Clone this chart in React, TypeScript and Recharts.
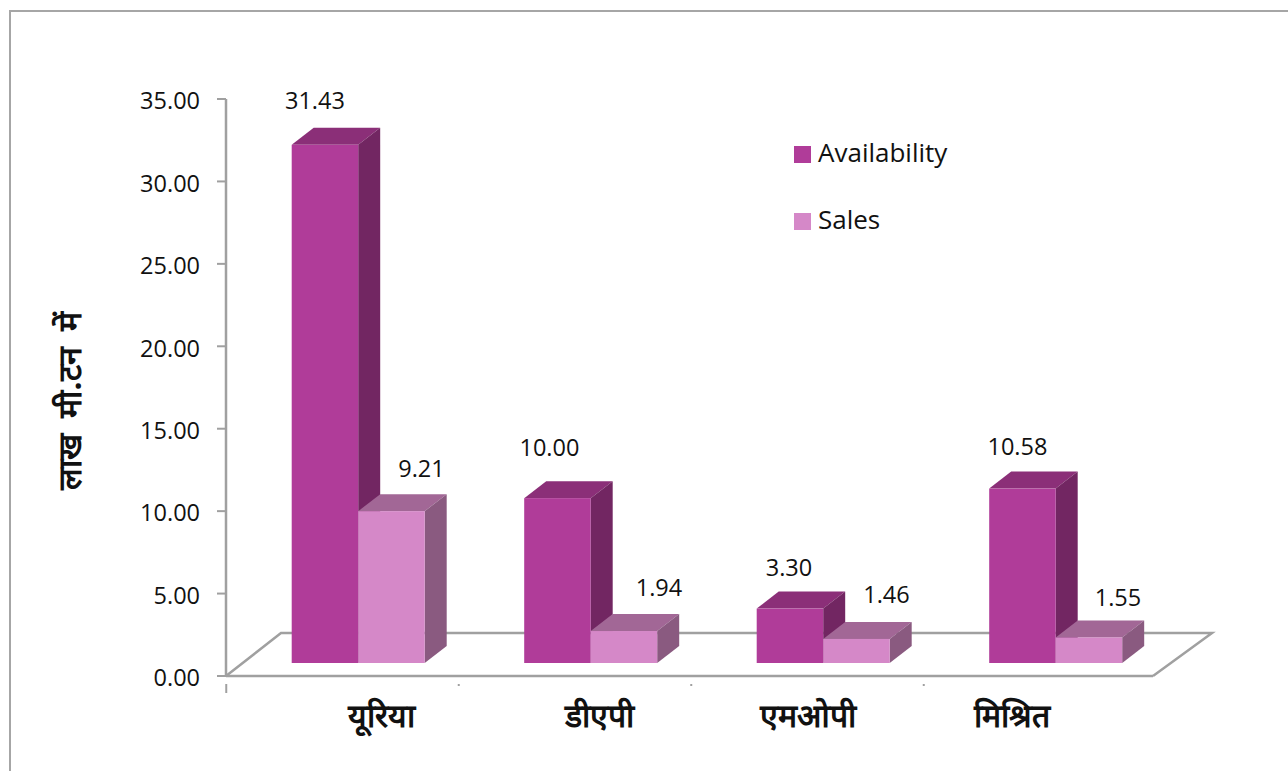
import {
  BarChart,
  Bar,
  XAxis,
  YAxis,
  Legend,
  LabelList,
  Customized,
} from 'recharts';

const categories = ['यूरिया', 'डीएपी', 'एमओपी', 'मिश्रित'];
const availability = [31.43, 10.0, 3.3, 10.58];
const sales = [9.21, 1.94, 1.46, 1.55];
const yTicks = [0, 5, 10, 15, 20, 25, 30, 35];

const data = categories.map((name, i) => ({
  name,
  Availability: availability[i],
  Sales: sales[i],
}));

const FONT = '"Open Sans", sans-serif';
const AXIS_GRAY = '#a0a0a0';

// bars sit part way back on the floor, so everything is shifted by this much
const SHIFT_X = 15.7;
const SHIFT_Y = -13;
const DEPTH_X = 22;
const DEPTH_Y = -17;

// the value labels were placed by hand in the original
const availLabelDx = [-10, -8, -1, -5];
const availLabelDy = [-45, -51, -42, -43];
const salesLabelDx = [30, 35, 30, 29];
const salesLabelDy = [-43, -44, -45, -40];
const tickLabelDx = [39, 25, 1, -28];

const bar3d = (front: string, top: string, side: string) => (props: any) => {
  const x = props.x + SHIFT_X;
  const y = props.y + SHIFT_Y;
  const { width: w, height: h } = props;
  return (
    <g>
      <polygon
        points={`${x},${y} ${x + DEPTH_X},${y + DEPTH_Y} ${x + w + DEPTH_X},${y + DEPTH_Y} ${x + w},${y}`}
        fill={top}
      />
      <polygon
        points={`${x + w},${y} ${x + w + DEPTH_X},${y + DEPTH_Y} ${x + w + DEPTH_X},${y + h + DEPTH_Y} ${x + w},${y + h}`}
        fill={side}
      />
      <rect x={x} y={y} width={w} height={h} fill={front} />
    </g>
  );
};

const valueLabel = (dxs: number[], dys: number[]) => (props: any) => {
  const { x, y, width, value, index } = props;
  return (
    <text
      x={x + SHIFT_X + width / 2 + dxs[index]}
      y={y + SHIFT_Y + dys[index]}
      textAnchor="middle"
      dominantBaseline="central"
      fontFamily={FONT}
      fontSize={23.5}
      fill="#111"
    >
      {Number(value).toFixed(2)}
    </text>
  );
};

function CategoryTick(props: any) {
  const { x, y, payload, index } = props;
  const left = x - 116;
  return (
    <g>
      <line x1={left} y1={y} x2={left} y2={y + (index === 0 ? 9 : 2)} stroke={AXIS_GRAY} strokeWidth={2} />
      <text
        x={x + tickLabelDx[index]}
        y={714}
        textAnchor="middle"
        dominantBaseline="central"
        fontFamily={FONT}
        fontWeight={700}
        fontSize={32}
        fill="#111"
      >
        {payload.value}
      </text>
    </g>
  );
}

function Floor() {
  return <polyline points="226,676 281,633 1212,633 1153,676" fill="none" stroke={AXIS_GRAY} strokeWidth={2.5} />;
}

function AxisTitle() {
  return (
    <text
      transform="translate(68,401) rotate(-90)"
      textAnchor="middle"
      dominantBaseline="central"
      fontFamily={FONT}
      fontWeight={700}
      fontSize={32}
      wordSpacing={8}
      fill="#111"
    >
      लाख मी.टन में
    </text>
  );
}

function LegendBox(props: any) {
  return (
    <div>
      {props.payload.map((item: any) => (
        <div
          key={item.value}
          style={{ display: 'flex', alignItems: 'center', height: 67, fontFamily: FONT, fontSize: 26, color: '#111' }}
        >
          <span style={{ width: 17, height: 17, background: item.color, marginRight: 7, marginTop: 2 }} />
          <span style={{ marginTop: -3 }}>{item.value}</span>
        </div>
      ))}
    </div>
  );
}

export default function App() {
  return (
    <div style={{ position: 'absolute', left: 0, top: 0, width: 1288, height: 771, overflow: 'hidden', background: '#fff' }}>
      <div
        style={{
          position: 'absolute',
          left: 9,
          top: 10,
          width: 1400,
          height: 900,
          border: '2px solid #a6a6a6',
          boxSizing: 'border-box',
        }}
      />
      <div style={{ position: 'absolute', left: 0, top: 0 }}>
        <BarChart
          width={1288}
          height={771}
          data={data}
          margin={{ top: 99, right: 135, bottom: 0, left: 0 }}
          barSize={66.5}
          barGap={0}
        >
          <Customized component={Floor} />
          <Customized component={AxisTitle} />
          <XAxis
            dataKey="name"
            height={95}
            interval={0}
            padding={{ left: 0, right: -3 }}
            axisLine={{ stroke: AXIS_GRAY, strokeWidth: 2.5 }}
            tickLine={false}
            tick={<CategoryTick />}
          />
          <YAxis
            width={226}
            domain={[0, 35]}
            ticks={yTicks}
            interval={0}
            tickFormatter={(v: number) => v.toFixed(2)}
            axisLine={{ stroke: AXIS_GRAY, strokeWidth: 2.5 }}
            tickLine={{ stroke: AXIS_GRAY, strokeWidth: 2 }}
            tickSize={9}
            tickMargin={17}
            tick={{ fontFamily: FONT, fontSize: 23.5, fill: '#111', dy: 2 }}
          />
          <Legend
            content={<LegendBox />}
            layout="vertical"
            align="center"
            verticalAlign="middle"
            wrapperStyle={{ position: 'absolute', left: 794, top: 120, width: 200 }}
          />
          <Bar dataKey="Availability" fill="#b03c99" isAnimationActive={false} shape={bar3d('#b03c99', '#8b2f78', '#722662')}>
            <LabelList dataKey="Availability" content={valueLabel(availLabelDx, availLabelDy)} />
          </Bar>
          <Bar dataKey="Sales" fill="#d588c8" isAnimationActive={false} shape={bar3d('#d588c8', '#a26796', '#8a5a80')}>
            <LabelList dataKey="Sales" content={valueLabel(salesLabelDx, salesLabelDy)} />
          </Bar>
        </BarChart>
      </div>
    </div>
  );
}
